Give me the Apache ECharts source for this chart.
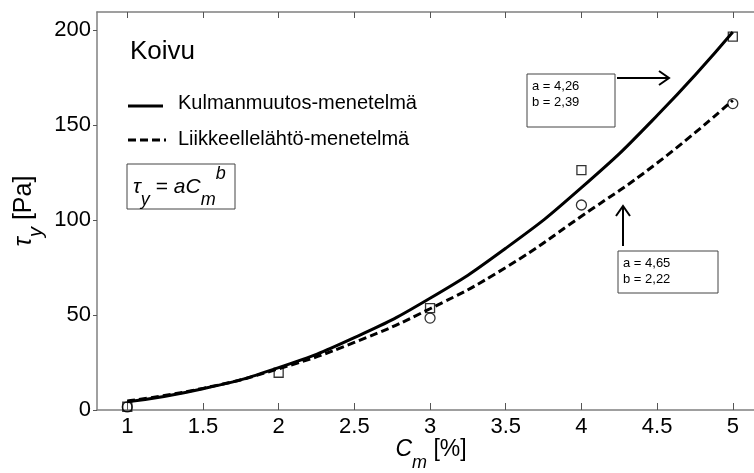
<!DOCTYPE html>
<html>
<head>
<meta charset="utf-8">
<script src="https://cdn.jsdelivr.net/npm/echarts@6/dist/echarts.min.js"></script>
<style>
    html, body { margin: 0; padding: 0; background: #fff; }
    #chart { width: 754px; height: 473px; }
</style>
</head>
<body>
<div id="chart"></div>
<script>
    // mitatut pisteet
    const cm = [ 1, 2, 3, 4, 5 ];
    const kulmanMitattu = [ 1.7, 19.6, 53.6, 126.3, 196.5 ];
    const liikkeelleMitattu = [ 1.6, null, 48.4, 107.9, 161.3 ];
    // sovitetut käyrät (luettu kuvasta)
    const cmKayra = [ 1, 1.5, 2, 2.5, 3, 3.5, 4, 4.5, 5 ];
    const kulmanKayra = [ 4.3, 11.2, 22.3, 38.1, 58.8, 85.1, 117, 155, 199 ];
    const liikkeelleKayra = [ 4.7, 11.4, 21.7, 35.6, 53.3, 75, 102, 130, 163 ];
    // akselien jaotus
    const xTicks = [ 1, 1.5, 2, 2.5, 3, 3.5, 4, 4.5, 5 ];
    const yTicks = [ 0, 50, 100, 150, 200 ];

    const font = 'Liberation Sans, Arial, sans-serif';
    const pairs = ( xs, ys ) => xs.map( ( x, i ) => [ x, ys[ i ] ] ).filter( p => p[ 1 ] != null );

    const chart = echarts.init( document.getElementById( 'chart' ) );

    const axisGray = '#808080';

    chart.setOption( {
        backgroundColor: '#ffffff',
        animation: false,
        grid: { left: 97, right: 0, top: 12, bottom: 63, outerBoundsMode: 'none' },
        xAxis: [ {
            type: 'value',
            min: 0.8,
            max: 5.14,
            name: '{m|C}{s|m}{n| [%]}',
            nameLocation: 'middle',
            nameGap: 18,
            nameMoveOverlap: false,
            nameTextStyle: {
                padding: [ 0, 0, 0, 11 ],
                rich: {
                    m: { fontFamily: font, fontSize: 23, fontStyle: 'italic', lineHeight: 44, verticalAlign: 'middle', color: '#000' },
                    n: { fontFamily: font, fontSize: 23, lineHeight: 44, verticalAlign: 'middle', color: '#000' },
                    s: { fontFamily: font, fontSize: 18, fontStyle: 'italic', lineHeight: 20, verticalAlign: 'bottom', color: '#000' }
                }
            },
            axisLine: { show: true, onZero: false, lineStyle: { color: axisGray, width: 1.5 } },
            axisTick: { show: true, inside: true, length: 7, customValues: xTicks, lineStyle: { color: '#555' } },
            axisLabel: { customValues: xTicks, margin: 6, fontFamily: font, fontSize: 22, color: '#000', formatter: v => String( v ) },
            splitLine: { show: false }
        }, {
            type: 'value',
            position: 'top',
            min: 0.8,
            max: 5.14,
            axisLine: { show: true, onZero: false, lineStyle: { color: axisGray, width: 1.5 } },
            axisTick: { show: true, inside: true, length: 6, customValues: xTicks, lineStyle: { color: '#555' } },
            axisLabel: { show: false },
            splitLine: { show: false }
        } ],
        yAxis: {
            type: 'value',
            min: 0,
            max: 209.5,
            name: '{m|τ}{s|y}{n| [Pa]}',
            nameLocation: 'middle',
            nameGap: 51,
            nameMoveOverlap: false,
            nameTextStyle: {
                rich: {
                    m: { fontFamily: font, fontSize: 25, fontStyle: 'italic', lineHeight: 44, verticalAlign: 'middle', color: '#000' },
                    n: { fontFamily: font, fontSize: 25, lineHeight: 44, verticalAlign: 'middle', color: '#000' },
                    s: { fontFamily: font, fontSize: 20, fontStyle: 'italic', lineHeight: 14, verticalAlign: 'bottom', color: '#000' }
                }
            },
            axisLine: { show: true, lineStyle: { color: axisGray, width: 1.5 } },
            axisTick: { show: true, inside: false, length: 4, customValues: yTicks, lineStyle: { color: '#555' } },
            axisLabel: { customValues: yTicks, margin: 6, fontFamily: font, fontSize: 22, color: '#000' },
            splitLine: { show: false }
        },
        series: [ {
            name: 'Kulmanmuutos mitattu',
            type: 'scatter',
            symbol: 'rect',
            symbolSize: 9,
            itemStyle: { color: 'none', borderColor: '#000', borderWidth: 1.3 },
            data: pairs( cm, kulmanMitattu ),
            z: 2
        }, {
            name: 'Liikkeellelähtö mitattu',
            type: 'scatter',
            symbol: 'circle',
            symbolSize: 10,
            itemStyle: { color: 'none', borderColor: '#000', borderWidth: 1.3 },
            data: pairs( cm, liikkeelleMitattu ),
            z: 2
        }, {
            name: 'Kulmanmuutos-menetelmä',
            type: 'line',
            smooth: 0.5,
            showSymbol: false,
            lineStyle: { color: '#000', width: 3 },
            data: pairs( cmKayra, kulmanKayra ),
            z: 3
        }, {
            name: 'Liikkeellelähtö-menetelmä',
            type: 'line',
            smooth: 0.5,
            showSymbol: false,
            lineStyle: { color: '#000', width: 3, type: [ 8, 4 ] },
            data: pairs( cmKayra, liikkeelleKayra ),
            z: 3
        } ],
        graphic: [
            { type: 'text', x: 130, y: 52, style: { text: 'Koivu', font: '26px ' + font, fill: '#000', verticalAlign: 'middle' } },
            { type: 'line', shape: { x1: 128, y1: 106, x2: 163, y2: 106 }, style: { stroke: '#000', lineWidth: 3 } },
            { type: 'line', shape: { x1: 128, y1: 140, x2: 166, y2: 140 }, style: { stroke: '#000', lineWidth: 3, lineDash: [ 8, 4 ] } },
            { type: 'text', x: 178, y: 103, style: { text: 'Kulmanmuutos-menetelmä', font: '20px ' + font, fill: '#000', verticalAlign: 'middle' } },
            { type: 'text', x: 178, y: 139, style: { text: 'Liikkeellelähtö-menetelmä', font: '20px ' + font, fill: '#000', verticalAlign: 'middle' } },
            // kaava
            { type: 'rect', shape: { x: 127, y: 164, width: 108, height: 45 }, style: { fill: '#fff', stroke: '#444', lineWidth: 1 } },
            {
                type: 'text', x: 133, y: 187,
                style: {
                    text: '{m|τ}{s|y}{n| = }{m|aC}{s|m}{p|b}',
                    verticalAlign: 'middle',
                    rich: {
                        m: { fontFamily: font, fontSize: 21, fontStyle: 'italic', lineHeight: 44, verticalAlign: 'middle', fill: '#000' },
                        n: { fontFamily: font, fontSize: 21, lineHeight: 44, verticalAlign: 'middle', fill: '#000' },
                        s: { fontFamily: font, fontSize: 18, fontStyle: 'italic', lineHeight: 22, verticalAlign: 'bottom', fill: '#000' },
                        p: { fontFamily: font, fontSize: 18, fontStyle: 'italic', lineHeight: 24, verticalAlign: 'top', fill: '#000' }
                    }
                }
            },
            // a,b laatikot
            { type: 'rect', shape: { x: 527, y: 74, width: 88, height: 53 }, style: { fill: '#fff', stroke: '#444', lineWidth: 1 } },
            { type: 'text', x: 532, y: 86, style: { text: 'a = 4,26', font: '13px ' + font, fill: '#000', verticalAlign: 'middle' } },
            { type: 'text', x: 532, y: 102, style: { text: 'b = 2,39', font: '13px ' + font, fill: '#000', verticalAlign: 'middle' } },
            { type: 'line', shape: { x1: 617, y1: 78, x2: 669, y2: 78 }, style: { stroke: '#000', lineWidth: 2 } },
            { type: 'polyline', shape: { points: [ [ 659, 71 ], [ 669, 78 ], [ 659, 85 ] ] }, style: { stroke: '#000', lineWidth: 2, fill: 'none' } },
            { type: 'rect', shape: { x: 618, y: 251, width: 100, height: 42 }, style: { fill: '#fff', stroke: '#444', lineWidth: 1 } },
            { type: 'text', x: 623, y: 263, style: { text: 'a = 4,65', font: '13px ' + font, fill: '#000', verticalAlign: 'middle' } },
            { type: 'text', x: 623, y: 279, style: { text: 'b = 2,22', font: '13px ' + font, fill: '#000', verticalAlign: 'middle' } },
            { type: 'line', shape: { x1: 623, y1: 246, x2: 623, y2: 206 }, style: { stroke: '#000', lineWidth: 2 } },
            { type: 'polyline', shape: { points: [ [ 616, 216 ], [ 623, 206 ], [ 630, 216 ] ] }, style: { stroke: '#000', lineWidth: 2, fill: 'none' } }
        ]
    } );
</script>
</body>
</html>
